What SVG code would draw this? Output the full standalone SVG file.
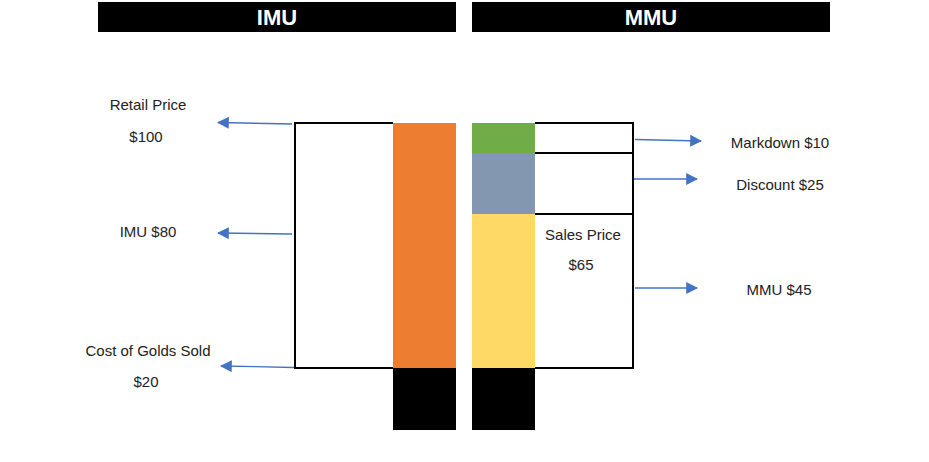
<svg xmlns="http://www.w3.org/2000/svg" width="929" height="462" viewBox="0 0 929 462">
  <defs>
    <marker id="ah" viewBox="0 0 10 10" refX="9" refY="5" markerWidth="12" markerHeight="12" markerUnits="userSpaceOnUse" orient="auto">
      <path d="M0,0 L10,5 L0,10 Z" fill="#4472C4"/>
    </marker>
  </defs>
  <style>
    .hdr { fill: #000; }
    .htxt { font-family: "Liberation Sans", Arial, sans-serif; font-weight: bold; font-size: 22px; fill: #fff; text-anchor: middle; }
    .lbl { font-family: "Liberation Sans", Arial, sans-serif; font-size: 15px; fill: #222; text-anchor: middle; }
    .box { fill: none; stroke: #000; stroke-width: 2; }
    .conn { stroke: #4472C4; stroke-width: 1.3; fill: none; marker-end: url(#ah); }
  </style>
  <rect width="929" height="462" fill="#fff"/>

  <g id="header-imu">
    <rect class="hdr" x="98" y="2" width="358" height="30"/>
    <text class="htxt" x="277" y="25">IMU</text>
  </g>
  <g id="header-mmu">
    <rect class="hdr" x="472" y="2" width="358" height="30"/>
    <text class="htxt" x="651" y="25">MMU</text>
  </g>

  <g id="imu-box">
    <path class="box" d="M393,123 H295 V368 H393"/>
  </g>
  <g id="imu-bar">
    <rect x="393" y="123" width="63" height="245" fill="#ED7D31"/>
    <rect x="393" y="368" width="63" height="62" fill="#000"/>
  </g>

  <g id="mmu-bar">
    <rect x="472" y="123" width="63" height="30" fill="#70AD47"/>
    <rect x="472" y="153" width="63" height="61" fill="#8497B0"/>
    <rect x="472" y="214" width="63" height="154" fill="#FFD966"/>
    <rect x="472" y="368" width="63" height="62" fill="#000"/>
  </g>
  <g id="mmu-box">
    <path class="box" d="M535,123 H633 V368 H535"/>
    <line class="box" x1="535" y1="153" x2="633" y2="153"/>
    <line class="box" x1="535" y1="214" x2="633" y2="214"/>
  </g>

  <g id="connectors">
    <line class="conn" x1="292" y1="124" x2="218" y2="122.5"/>
    <line class="conn" x1="292" y1="234" x2="218" y2="233"/>
    <line class="conn" x1="294" y1="367.5" x2="221" y2="366"/>
    <line class="conn" x1="635" y1="139.5" x2="701" y2="141"/>
    <line class="conn" x1="634" y1="179" x2="697" y2="179"/>
    <line class="conn" x1="635" y1="288" x2="697" y2="288"/>
  </g>

  <g id="label-retail">
    <text class="lbl" x="148" y="110">Retail Price</text>
    <text class="lbl" x="146" y="142">$100</text>
  </g>
  <g id="label-imu">
    <text class="lbl" x="148" y="237">IMU $80</text>
  </g>
  <g id="label-cogs">
    <text class="lbl" x="148" y="356">Cost of Golds Sold</text>
    <text class="lbl" x="146" y="387">$20</text>
  </g>
  <g id="label-sales">
    <text class="lbl" x="583" y="240">Sales Price</text>
    <text class="lbl" x="581" y="270">$65</text>
  </g>
  <g id="label-markdown">
    <text class="lbl" x="780" y="148">Markdown $10</text>
  </g>
  <g id="label-discount">
    <text class="lbl" x="780" y="190">Discount $25</text>
  </g>
  <g id="label-mmu">
    <text class="lbl" x="779" y="295">MMU $45</text>
  </g>
</svg>
